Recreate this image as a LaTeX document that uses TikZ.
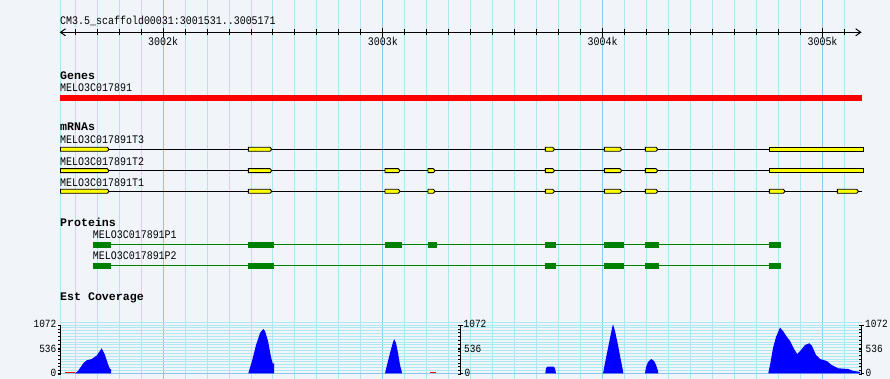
\documentclass[tikz,border=0pt]{standalone}
\usepackage{fontspec}
\newfontfamily\gdf[FakeStretch=0.86]{Liberation Mono}
\newfontfamily\gdb{Liberation Mono}
\definecolor{bgc}{RGB}{241,245,250}
\definecolor{gridc}{RGB}{172,232,240}
\definecolor{gridk}{RGB}{135,200,235}
\definecolor{exy}{RGB}{255,255,0}
\definecolor{protg}{RGB}{0,128,0}
\definecolor{covb}{RGB}{0,0,255}
\definecolor{genered}{RGB}{255,0,0}
\tikzset{
  txt/.style={font=\gdf\fontsize{11.6}{12}\selectfont, inner sep=0pt, anchor=base west},
  hdr/.style={font=\gdb\bfseries\fontsize{11.6}{12}\selectfont, inner sep=0pt, anchor=base west},
  axl/.style={font=\gdf\fontsize{11}{12}\selectfont, inner sep=0pt},
  exonbox/.style={fill=exy, draw=black, line width=0.9pt},
  intron/.style={draw=black, line width=1pt},
  pline/.style={draw=protg, line width=1pt},
  pbox/.style={fill=protg},
  vgrid/.style={draw=gridc, line width=1pt},
  vgridk/.style={draw=gridk, line width=1pt},
}
\newcommand\gbexon[3]{\filldraw[exonbox] (#1,#3-2) -- (#2,#3-2) -- (#2+1.8,#3) -- (#2,#3+2) -- (#1,#3+2) -- cycle;}
\newcommand\gbpbox[3]{\fill[pbox] (#1,#3-2.8) rectangle (#2,#3+2.8);}
\begin{document}
\begin{tikzpicture}[x=1pt,y=-1pt]
\useasboundingbox (0,0) rectangle (890,379);
\fill[bgc] (0,0) rectangle (890,379);
% vertical grid
\draw[vgrid] (60,0) -- (60,379);
\foreach \k in {0,...,35} {
  \pgfmathsetmacro\xx{60+(69+100*\k)*0.2198}
  \pgfmathtruncatemacro\mk{mod(\k+6,10)}
  \ifnum\mk=0
    \draw[vgridk] (\xx,0) -- (\xx,379);
  \else
    \draw[vgrid] (\xx,0) -- (\xx,379);
  \fi
}
% coverage horizontal grid
\foreach \j in {0,...,17} {
  \draw[vgrid] (60,322.3+\j*2.833) -- (862,322.3+\j*2.833);
}
\draw[vgridk] (60,373.3) -- (862,373.3);

% ruler
\node[txt] (title) at (60,25) {CM3.5\_scaffold00031:3001531..3005171};
\coordinate (rl) at (60.5,32.3);
\coordinate (rr) at (860.7,32.3);
\draw[line width=1pt] (rl) -- (rr);
\draw[line width=1pt] (65.5,28.8) -- (rl) -- (65.5,35.8);
\draw[line width=1pt] (855.7,28.8) -- (rr) -- (855.7,35.8);
\foreach \k in {0,...,35} {
  \pgfmathsetmacro\xx{60+(69+100*\k)*0.2198}
  \draw[line width=1pt] (\xx,29.5) -- (\xx,35);
}
\foreach \lab/\kk in {3002k/4,3003k/14,3004k/24,3005k/34} {
  \pgfmathsetmacro\xx{60+(69+100*\kk)*0.2198}
  \draw[line width=1pt] (\xx,28) -- (\xx,37);
  \node[txt, anchor=base] at (\xx,45.7) {\lab};
}

% genes
\node[hdr] (genes) at (60,80) {Genes};
\node[txt] (gene1) at (60,92) {MELO3C017891};
\fill[genered] (60,95) rectangle (862,101);

% mRNAs
\node[hdr] (mrnas) at (60,131) {mRNAs};
\node[txt] (t3) at (60,144) {MELO3C017891T3};
\node[txt] (t2) at (60,165.3) {MELO3C017891T2};
\node[txt] (t1) at (60,186.3) {MELO3C017891T1};
\foreach \yy in {149.3,170.7,191.3} { \draw[intron] (60,\yy) -- (862,\yy); }
% T3
\gbexon{60.5}{107.3}{149.3}
\gbexon{248.3}{270}{149.3}
\gbexon{545.3}{552.7}{149.3}
\gbexon{604.3}{620}{149.3}
\gbexon{645.3}{656}{149.3}
\filldraw[exonbox] (769.3,147.3) -- (863,147.3) -- (863,151.3) -- (769.3,151.3) -- cycle;
% T2
\gbexon{60.5}{107.3}{170.7}
\gbexon{248.3}{270}{170.7}
\gbexon{385}{398.3}{170.7}
\gbexon{428}{433.3}{170.7}
\gbexon{545.3}{552.7}{170.7}
\gbexon{604.3}{620}{170.7}
\gbexon{645.3}{656}{170.7}
\filldraw[exonbox] (769.3,168.7) -- (863,168.7) -- (863,172.7) -- (769.3,172.7) -- cycle;
% T1
\gbexon{60.5}{107.3}{191.3}
\gbexon{248.3}{270}{191.3}
\gbexon{385}{398.3}{191.3}
\gbexon{428}{433.3}{191.3}
\gbexon{545.3}{552.7}{191.3}
\gbexon{604.3}{620}{191.3}
\gbexon{645.3}{656}{191.3}
\gbexon{769.3}{783.3}{191.3}
\gbexon{837.3}{856.7}{191.3}

% proteins
\node[hdr] (prot) at (60,226.7) {Proteins};
\node[txt] (p1) at (92.7,238.3) {MELO3C017891P1};
\node[txt] (p2) at (92.7,259.3) {MELO3C017891P2};
\draw[pline] (92.7,244.6) -- (781,244.6);
\draw[pline] (92.7,265.6) -- (781,265.6);
\foreach \a/\b in {92.7/111,248.3/274,385/402,428/437,545/556,604/624,645/659,769/781} { \gbpbox{\a}{\b}{244.8} }
\foreach \a/\b in {92.7/111,248.3/274,545/556,604/624,645/659,769/781} { \gbpbox{\a}{\b}{265.8} }

% coverage
\node[hdr] (est) at (60,300.7) {Est Coverage};
\fill[covb] (75,373.3) -- (78,371) -- (83.3,363.3) -- (86.7,360.3) -- (91.7,359) -- (96.7,355.6) -- (101.7,348.3) -- (105,355) -- (108.3,365) -- (110,369) -- (111,369) -- (111,373.3) -- cycle;
\fill[covb] (248.3,373.3) -- (252,361) -- (256,345) -- (260,333) -- (263.3,329) -- (265,331) -- (268,341) -- (271,357) -- (272.7,363.3) -- (274,363.3) -- (274,373.3) -- cycle;
\fill[covb] (385,373.3) -- (387,365) -- (390,353) -- (393,342) -- (394.3,339.3) -- (396,343) -- (398,353) -- (400,365) -- (401.7,371.3) -- (402,373.3) -- cycle;
\fill[covb] (545.3,373.3) -- (546,368.3) -- (547.5,366.6) -- (553.5,366.6) -- (555,368.3) -- (556,373.3) -- cycle;
\fill[covb] (603,373.3) -- (606,358) -- (609,343) -- (612,328) -- (613,324.3) -- (615,331) -- (618,345) -- (621,361) -- (623,371) -- (623.3,373.3) -- cycle;
\fill[covb] (645,373.3) -- (646,367) -- (648,362) -- (651.3,359) -- (654,361) -- (656,365) -- (658,371) -- (658.3,373.3) -- cycle;
\fill[covb] (768.3,373.3) -- (770,365) -- (773,348) -- (776,337) -- (780,327.6) -- (783,331) -- (786.7,336.6) -- (790,341) -- (794,349) -- (797.3,354) -- (801,350) -- (805,345) -- (809.3,343.3) -- (812,346) -- (816,355) -- (820,359) -- (826.7,361) -- (831.7,365) -- (838.3,368.3) -- (848.3,369) -- (853.3,371) -- (860,371.8) -- (860,373.3) -- cycle;
\draw[genered, line width=1pt] (65,372.6) -- (75,372.6);
\draw[genered, line width=1pt] (430,372.6) -- (435.7,372.6);

% axes
\foreach \ax/\dir in {60.5/-1,460.7/1,861.7/1} {
  \draw[line width=1pt] (\ax,324.8) -- (\ax,373.8);
  \foreach \t in {0,...,13} { \draw[line width=0.8pt] (\ax,325.3+\t*3.77) -- (\ax-2.5,325.3+\t*3.77); }
  \draw[line width=0.8pt] (\ax-2.5,349.3) -- (\ax,349.3);
  \draw[line width=1pt] (\ax,325.3) -- (\ax+\dir*2.5,325.3);
  \draw[line width=1pt] (\ax,373.3) -- (\ax+\dir*2.5,373.3);
}
\node[axl, anchor=east] (l1072) at (56.5,324.3) {1072};
\node[axl, anchor=east] (l536) at (56.5,349.3) {536};
\node[axl, anchor=east] (l0) at (56.5,373.3) {0};
\node[axl, anchor=west] (m1072) at (463.5,324) {1072};
\node[axl, anchor=west] (m536) at (464,349.3) {536};
\node[axl, anchor=west] (m0) at (464.5,373.3) {0};
\node[axl, anchor=west] (r1072) at (865,324) {1072};
\node[axl, anchor=west] (r536) at (865.5,349.3) {536};
\node[axl, anchor=west] (r0) at (865.5,373.3) {0};
\end{tikzpicture}
\end{document}
